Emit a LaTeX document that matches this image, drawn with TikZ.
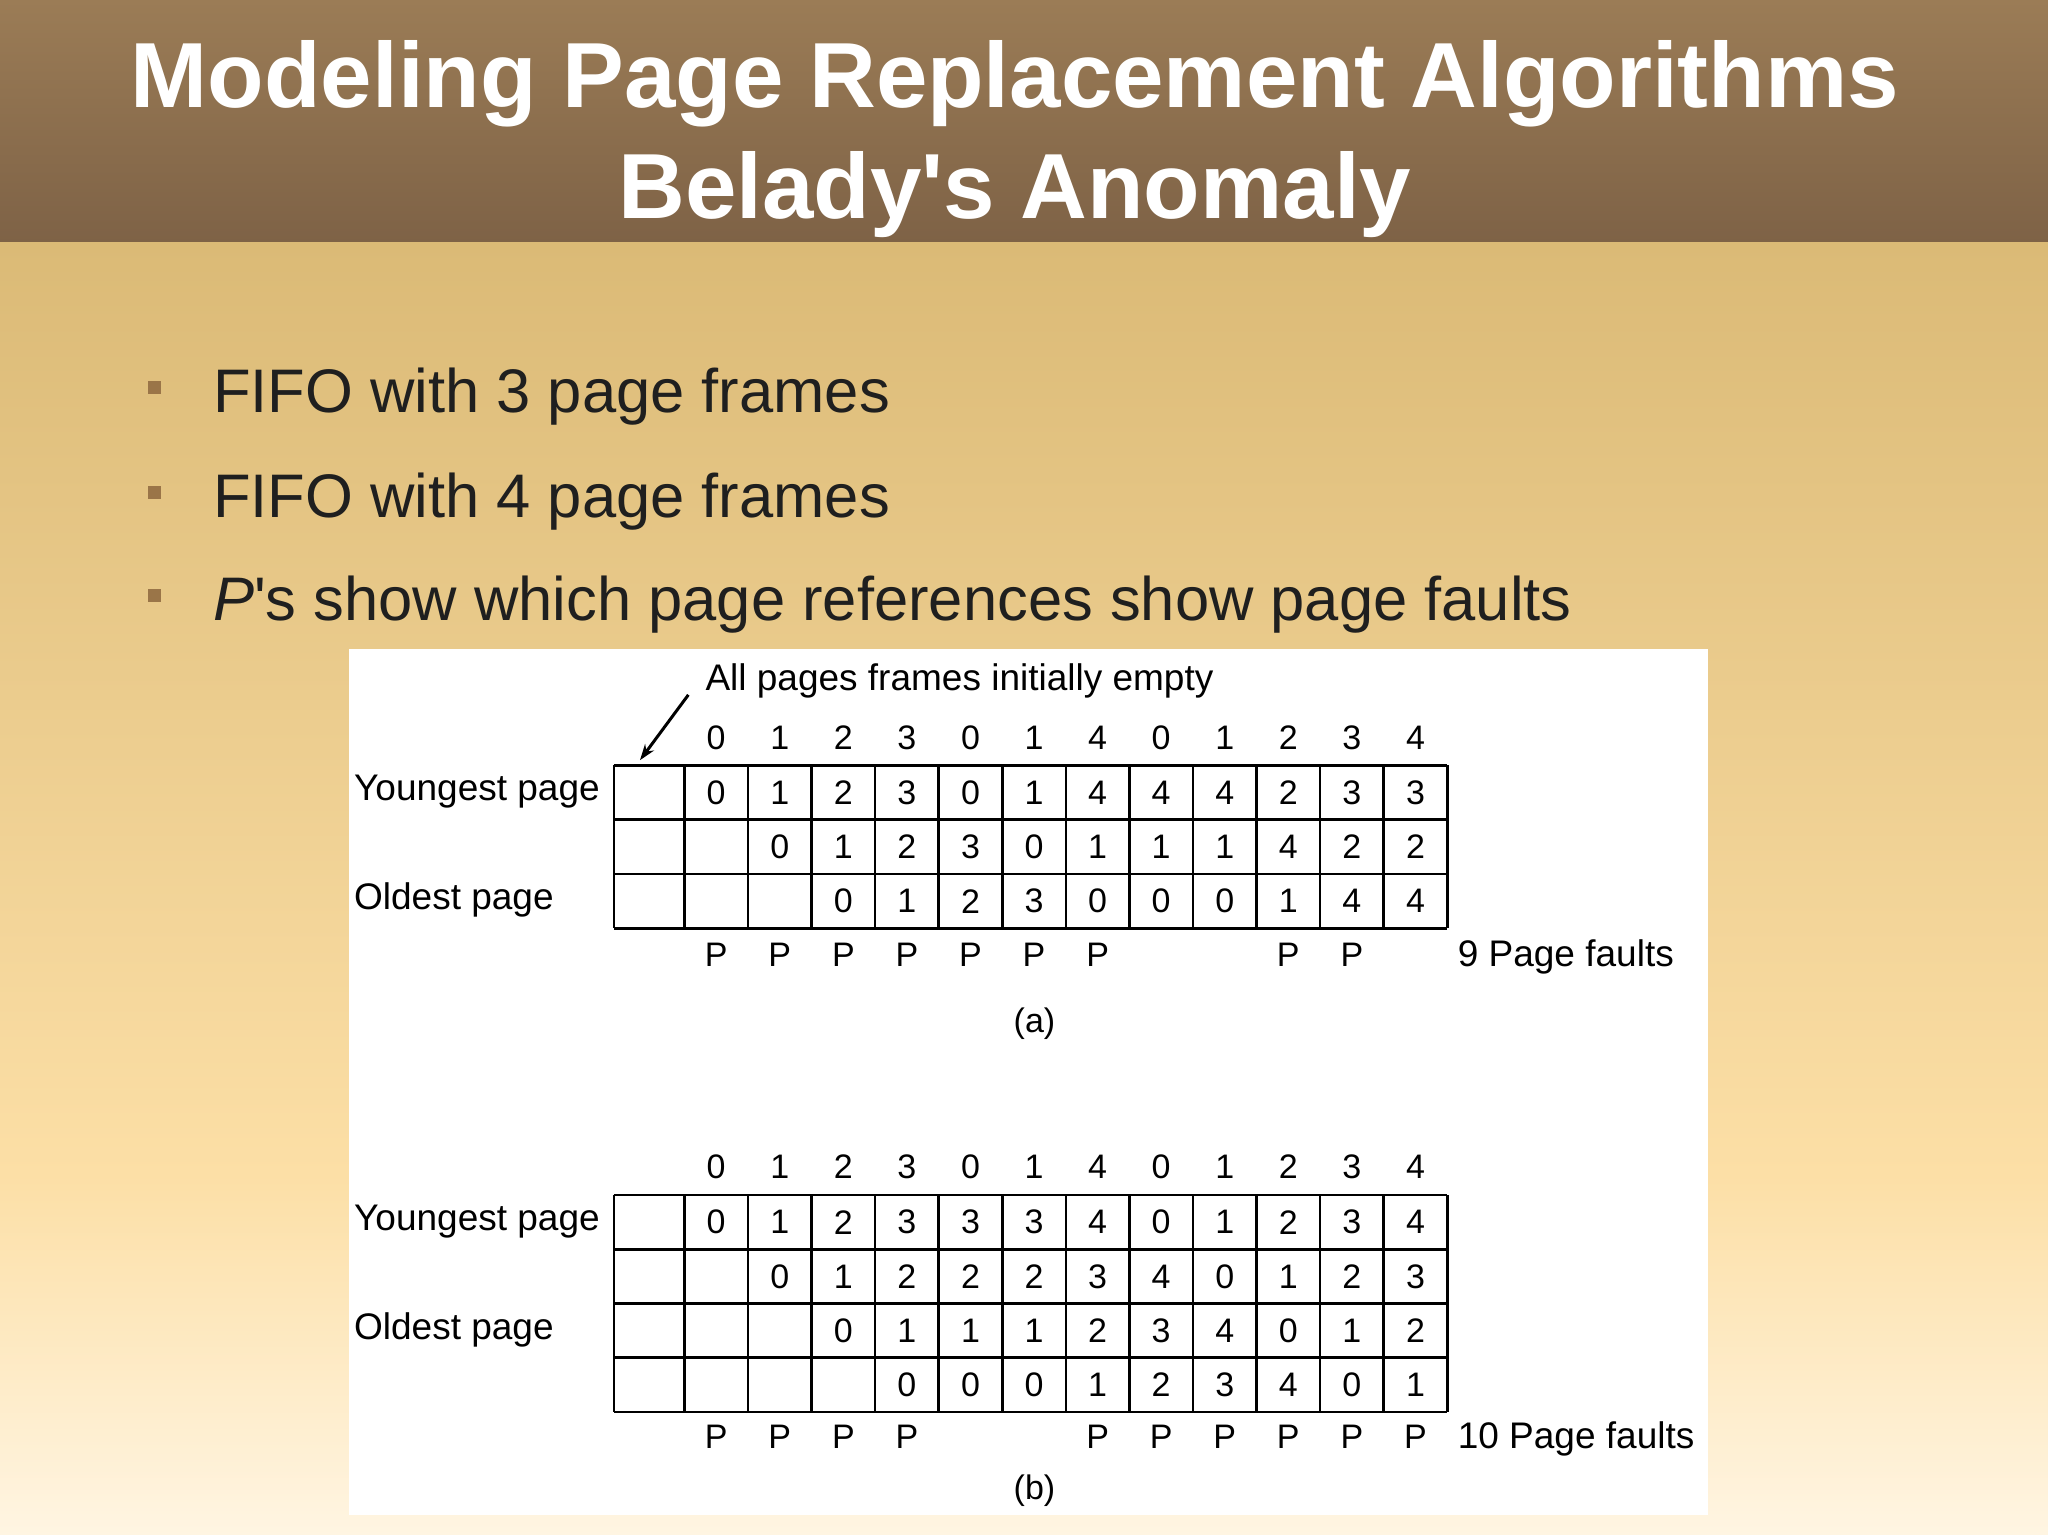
\documentclass[tikz,border=0pt]{standalone}
\usepackage{fontspec}
\setmainfont{Liberation Sans}
\usetikzlibrary{arrows.meta}
\begin{document}
\begin{tikzpicture}[x=1.3061pt,y=-1.3061pt,
  cellline/.style={line width=2.6pt,black},
  tnum/.style={font=\fontsize{34}{38}\selectfont,inner sep=0pt,anchor=center},
  tlab/.style={font=\fontsize{37}{42}\selectfont,inner sep=0pt,anchor=west},
  bullettext/.style={font=\fontsize{61.5}{70}\selectfont,text=black!88,inner sep=0pt,anchor=west},
  bulletsq/.style={fill=bulletc,draw=none,minimum size=13pt,inner sep=0pt},
  titletext/.style={font=\fontsize{92.5}{100}\selectfont\bfseries,text=white,inner sep=0pt}]
\definecolor{hdtop}{HTML}{9B7C56}
\definecolor{hdbot}{HTML}{7E6246}
\definecolor{bgtop}{HTML}{DBBA76}
\definecolor{bgmid}{HTML}{FCDFA6}
\definecolor{bgbot}{HTML}{FFF5E2}
\definecolor{bulletc}{HTML}{9A7548}
\useasboundingbox (0,0) rectangle (1568,1175);
% backgrounds
\shade[top color=hdtop,bottom color=hdbot] (0,0) rectangle (1568,186);
\shade[top color=bgtop,bottom color=bgmid] (0,186) rectangle (1568,900);
\shade[top color=bgmid,bottom color=bgbot] (0,900) rectangle (1568,1175);
% title
\node[titletext] (t1) at (777,64) {Modeling Page Replacement Algorithms};
\node[titletext] (t2) at (777,149) {Belady\textquotesingle s Anomaly};
% bullets
\foreach \yy/\txt [count=\i] in {304/{FIFO with 3 page frames},384/{FIFO with 4 page frames},463/{\textit{P}\textquotesingle s show which page references show page faults}}{
  \node[bulletsq] (b\i) at (118,\yy-7) {};
  \node[bullettext] (bt\i) at (163,\yy) {\txt};
}
% white panel
\fill[white] (267,497) rectangle (1308,1160);
% ---- table (a)
\node[tlab] (alltxt) at (540,521) {All pages frames initially empty};
\coordinate (arrs) at (527,532);
\coordinate (arre) at (490,582);
\draw[line width=3pt,-{Stealth[length=16pt,width=11pt]}] (arrs) -- (arre);
\foreach \v [count=\c] in {0,1,2,3,0,1,4,0,1,2,3,4}{
  \pgfmathsetmacro\cx{524+(\c-0.5)*48.67}
  \node[tnum] (ah\c) at (\cx,565) {\v};
  \node[tnum] (bh\c) at (\cx,893) {\v};
}
\foreach \row [count=\r] in {{ ,0,1,2,3,0,1,4,4,4,2,3,3},{ , ,0,1,2,3,0,1,1,1,4,2,2},{ , , ,0,1,2,3,0,0,0,1,4,4}}{
  \foreach \v [count=\c from 0] in \row {
    \pgfmathsetmacro\cx{\c==0 ? 497 : 524+(\c-0.5)*48.67}
    \pgfmathsetmacro\cy{586+(\r-0.5)*41.6}
    \node[tnum] (a-\r-\c) at (\cx,\cy) {\v};
  }
}
\foreach \yy in {586,627.6,669.2,710.8} \draw[cellline] (470,\yy) -- (1108,\yy);
\draw[cellline] (470,586) -- (470,710.8);
\foreach \k in {0,...,12} \draw[cellline] ({524+\k*48.67},586) -- ({524+\k*48.67},710.8);
\foreach \c in {1,2,3,4,5,6,7,10,11}{
  \pgfmathsetmacro\cx{524+(\c-0.5)*48.67}
  \node[tnum] (ap\c) at (\cx,731) {P};
}
\node[tlab] (ayl) at (271,606) {Youngest page};
\node[tlab] (aol) at (271,689) {Oldest page};
\node[tlab] (apf) at (1116,733) {9 Page faults};
\node[tnum] (acap) at (792,784) {(a)};
% ---- table (b)
\foreach \row [count=\r] in {{ ,0,1,2,3,3,3,4,0,1,2,3,4},{ , ,0,1,2,2,2,3,4,0,1,2,3},{ , , ,0,1,1,1,2,3,4,0,1,2},{ , , , ,0,0,0,1,2,3,4,0,1}}{
  \foreach \v [count=\c from 0] in \row {
    \pgfmathsetmacro\cx{\c==0 ? 497 : 524+(\c-0.5)*48.67}
    \pgfmathsetmacro\cy{915+(\r-0.5)*41.5}
    \node[tnum] (b-\r-\c) at (\cx,\cy) {\v};
  }
}
\foreach \yy in {915,956.5,998,1039.5,1081} \draw[cellline] (470,\yy) -- (1108,\yy);
\draw[cellline] (470,915) -- (470,1081);
\foreach \k in {0,...,12} \draw[cellline] ({524+\k*48.67},915) -- ({524+\k*48.67},1081);
\foreach \c in {1,2,3,4,7,8,9,10,11,12}{
  \pgfmathsetmacro\cx{524+(\c-0.5)*48.67}
  \node[tnum] (bp\c) at (\cx,1100) {P};
}
\node[tlab] (byl) at (271,935) {Youngest page};
\node[tlab] (bol) at (271,1018) {Oldest page};
\node[tlab] (bpf) at (1116,1102) {10 Page faults};
\node[tnum] (bcap) at (792,1141) {(b)};
\end{tikzpicture}
\end{document}
